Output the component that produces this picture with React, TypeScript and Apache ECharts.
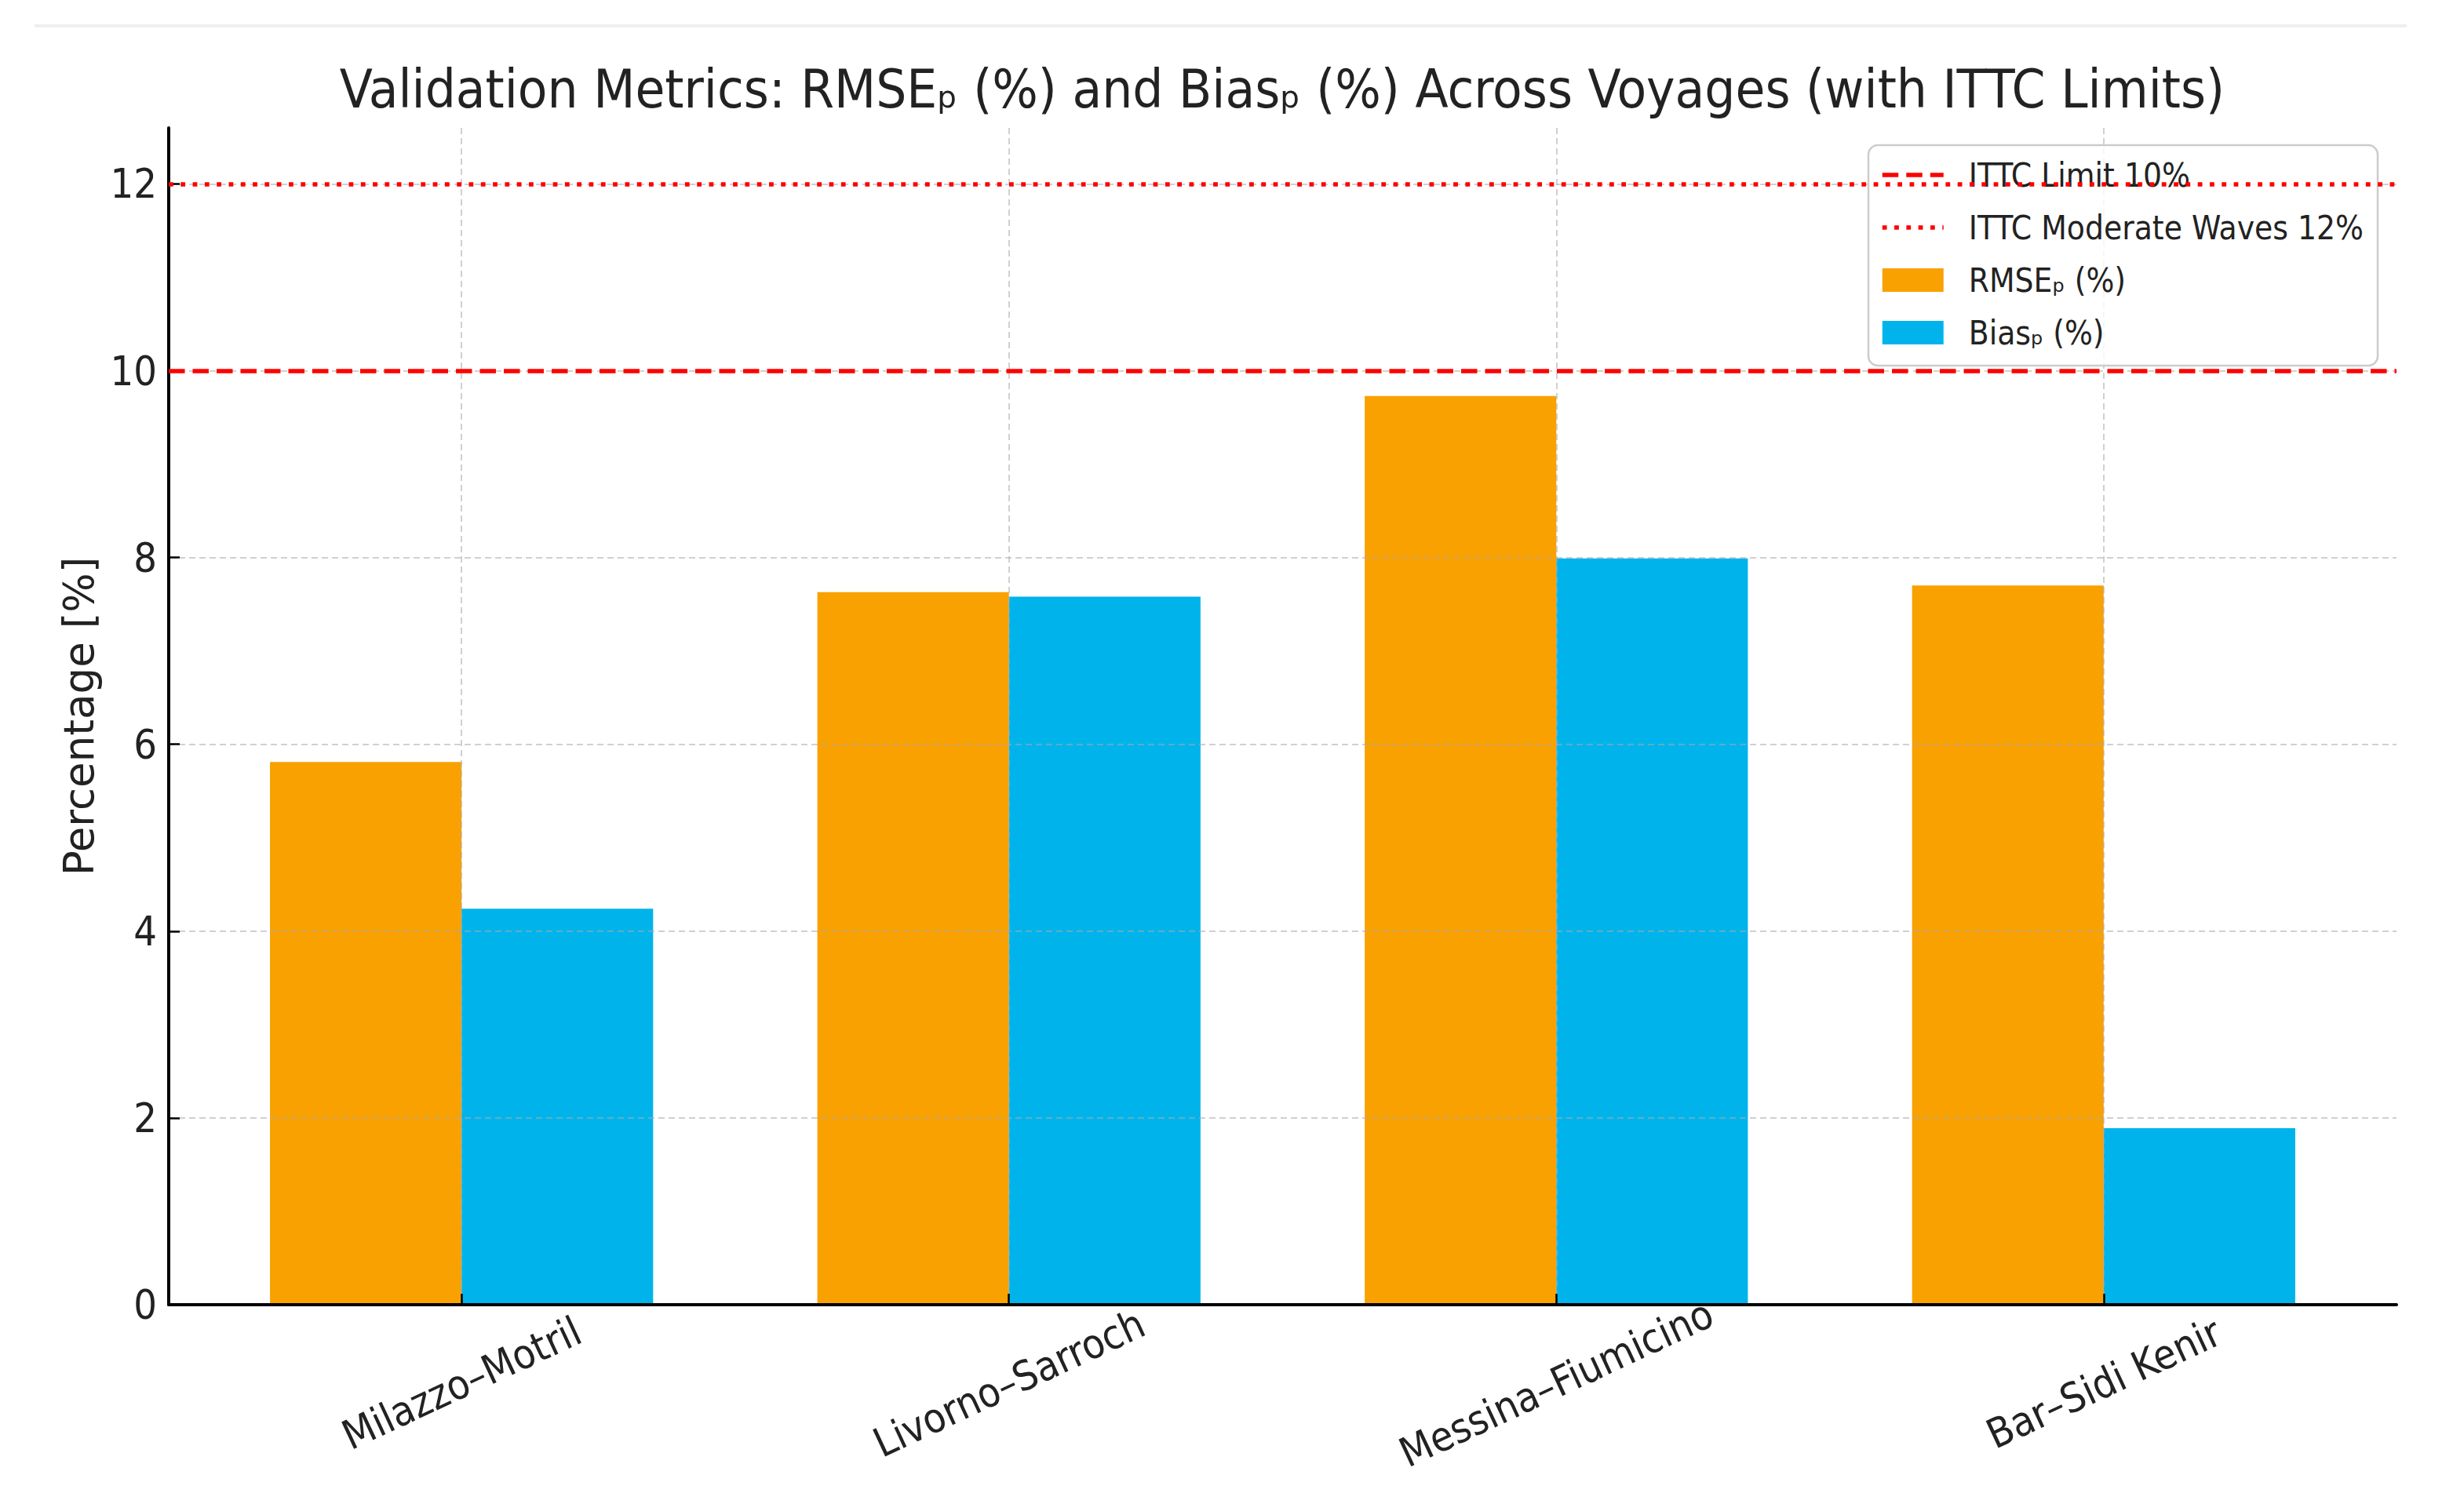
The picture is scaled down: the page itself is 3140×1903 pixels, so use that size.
import React, { useEffect, useRef } from "react";
import * as echarts from "echarts";

// ---------- data ----------
const categories = ["Milazzo–Motril", "Livorno–Sarroch", "Messina–Fiumicino", "Bar–Sidi Kenir"];
const rmseValues = [5.81, 7.63, 9.73, 7.7];
const biasValues = [4.24, 7.58, 7.99, 1.89];
const yTicks = [0, 2, 4, 6, 8, 10, 12];
const ittcLimit = 10;
const ittcModerate = 12;
const nameLimit = "ITTC Limit 10%";
const nameModerate = "ITTC Moderate Waves 12%";
const nameRmse = "RMSEₚ (%)";
const nameBias = "Biasₚ (%)";
const titleText = "Validation Metrics: RMSEₚ (%) and Biasₚ (%) Across Voyages (with ITTC Limits)";
const yAxisName = "Percentage [%]";
const xRange = [-0.535, 3.535];
const yRange = [0, 12.6];

// ---------- styles ----------
const COND = "'DejaVu Sans Condensed', 'DejaVu Sans', sans-serif";
const SANS = "'DejaVu Sans', sans-serif";
const TXT = "#222222";
const ORANGE = "#F9A100";
const BLUE = "#00B4EB";
const RED = "#FF0000";
const GRID = "rgba(170,170,170,0.55)";
const DASH = [20.5, 10];
const DOT = [5.8, 9.5];
const RED_W = 5.5;

const xPositions = categories.map((_, i) => i);

function buildOption(): any {
  return {
    animation: false,
    backgroundColor: "#ffffff",
    grid: { left: 215, right: 86, top: 163, bottom: 240, containLabel: false, outerBoundsMode: "none" },
    graphic: [
      { type: "rect", silent: true, shape: { x: 44, y: 31, width: 3023, height: 4 }, style: { fill: "#efefef" } },
      {
        type: "text",
        silent: true,
        x: 1634,
        y: 113,
        style: { text: titleText, fontSize: 68.5, fontFamily: COND, fill: TXT, align: "center", verticalAlign: "middle" },
      },
    ],
    legend: {
      orient: "vertical",
      left: 2381,
      top: 185,
      data: [
        {
          name: nameLimit,
          itemStyle: { opacity: 0, borderWidth: 0 },
          lineStyle: { width: RED_W, type: DASH, color: RED, cap: "butt" },
        },
        {
          name: nameModerate,
          itemStyle: { opacity: 0, borderWidth: 0 },
          lineStyle: { width: RED_W, type: DOT, color: RED, cap: "butt" },
        },
        { name: nameRmse, icon: "rect" },
        { name: nameBias, icon: "rect" },
      ],
      itemWidth: 78,
      itemHeight: 30,
      itemGap: 19,
      padding: [14, 18, 18, 15],
      backgroundColor: "rgba(255,255,255,0.8)",
      borderColor: "#cccccc",
      borderWidth: 2.5,
      borderRadius: 12,
      selectedMode: false,
      textStyle: { fontSize: 42, lineHeight: 48, fontFamily: COND, color: TXT, padding: [0, 0, 0, 27] },
    },
    xAxis: {
      type: "value",
      min: xRange[0],
      max: xRange[1],
      axisLine: { show: true, onZero: false, lineStyle: { color: "#000", width: 4 } },
      axisTick: { show: true, inside: true, length: 14, customValues: xPositions, lineStyle: { color: "#000", width: 2.5 } },
      axisLabel: {
        customValues: xPositions,
        formatter: (v: number) => categories[Math.round(v)] ?? "",
        rotate: 25,
        align: "center",
        verticalAlign: "middle",
        margin: 100,
        fontSize: 52,
        fontFamily: COND,
        color: TXT,
      },
      splitLine: { show: true, lineStyle: { color: GRID, width: 2, type: [8, 5] } },
    },
    yAxis: {
      type: "value",
      min: yRange[0],
      max: yRange[1],
      interval: 2,
      name: yAxisName,
      nameLocation: "middle",
      nameGap: 88,
      nameTextStyle: { fontSize: 53, fontFamily: SANS, color: TXT },
      axisLine: { show: true, onZero: false, lineStyle: { color: "#000", width: 4 } },
      axisTick: { show: true, inside: true, length: 14, customValues: yTicks, lineStyle: { color: "#000", width: 2.5 } },
      axisLabel: { customValues: yTicks, fontSize: 52, fontFamily: COND, color: TXT, margin: 15 },
      splitLine: { show: true, lineStyle: { color: GRID, width: 2, type: [8, 5] } },
    },
    series: [
      {
        name: nameRmse,
        type: "bar",
        data: rmseValues.map((v, i) => [xPositions[i], v]),
        barWidth: "35%",
        barGap: "0%",
        itemStyle: { color: ORANGE },
        z: -1,
        silent: true,
      },
      {
        name: nameBias,
        type: "bar",
        data: biasValues.map((v, i) => [xPositions[i], v]),
        barWidth: "35%",
        barGap: "0%",
        itemStyle: { color: BLUE },
        z: -1,
        silent: true,
      },
      {
        name: nameLimit,
        type: "line",
        data: [],
        symbol: "none",
        itemStyle: { color: RED },
        lineStyle: { color: RED, width: RED_W, type: DASH },
        markLine: {
          silent: true,
          symbol: ["none", "none"],
          label: { show: false },
          lineStyle: { color: RED, width: RED_W, type: DASH },
          data: [{ yAxis: ittcLimit }],
        },
      },
      {
        name: nameModerate,
        type: "line",
        data: [],
        symbol: "none",
        itemStyle: { color: RED },
        lineStyle: { color: RED, width: RED_W, type: DOT },
        markLine: {
          silent: true,
          symbol: ["none", "none"],
          label: { show: false },
          lineStyle: { color: RED, width: RED_W, type: DOT },
          data: [{ yAxis: ittcModerate }],
        },
      },
    ],
  };
}

export default function App() {
  const ref = useRef<HTMLDivElement>(null);
  useEffect(() => {
    if (!ref.current) return;
    const chart = echarts.init(ref.current, null, { renderer: "svg" });
    chart.setOption(buildOption());
    return () => chart.dispose();
  }, []);
  return (
    <div
      ref={ref}
      style={{ position: "fixed", left: 0, top: 0, width: 3140, height: 1903, background: "#ffffff" }}
    />
  );
}
